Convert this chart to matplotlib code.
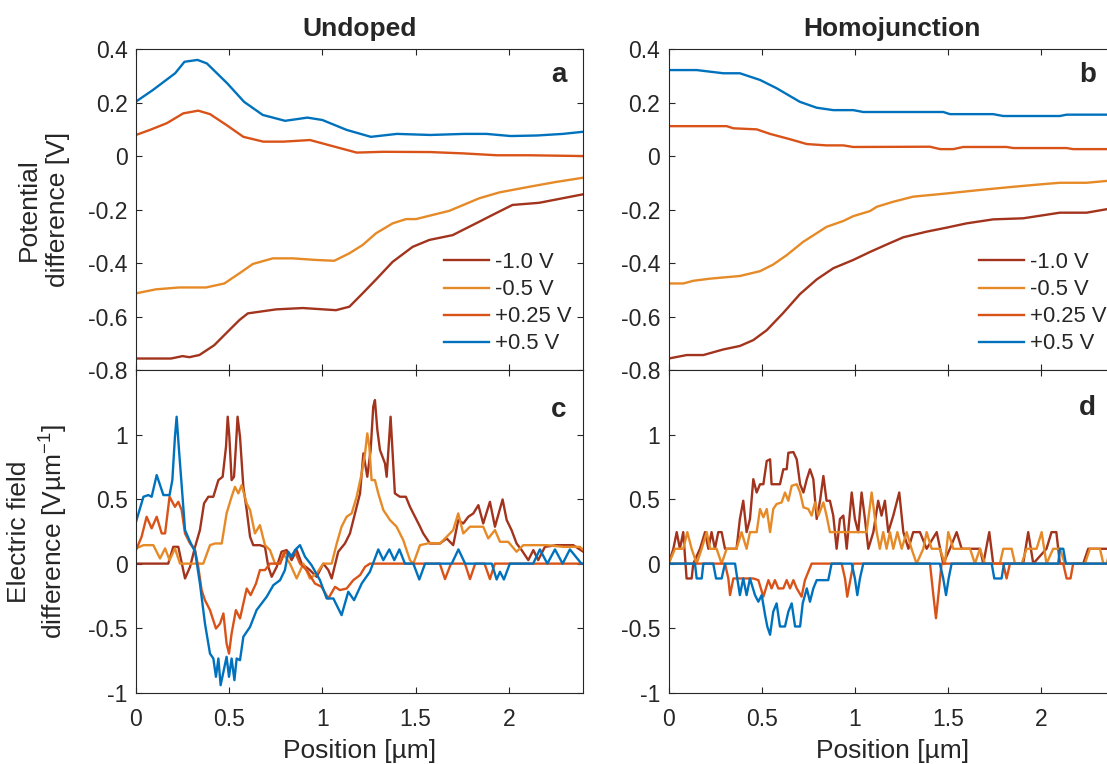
import matplotlib
matplotlib.use("Agg")
import matplotlib.pyplot as plt
from matplotlib.ticker import FuncFormatter

plt.rcParams['font.family'] = ['Liberation Sans', 'DejaVu Sans']
plt.rcParams['mathtext.fontset'] = 'custom'
plt.rcParams['mathtext.rm'] = 'Liberation Sans'
plt.rcParams['mathtext.it'] = 'Liberation Sans:italic'
plt.rcParams['axes.unicode_minus'] = False

labels = ["-1.0 V", "-0.5 V", "+0.25 V", "+0.5 V"]
colors = ["#A2331C", "#E68A28", "#D95319", "#0072BD"]

# ---- panel a: undoped, potential difference
a_x_m10 = [0, 0.188, 0.25, 0.286, 0.34, 0.42, 0.5, 0.555, 0.6, 0.752, 0.895, 1.073, 1.145, 1.216, 1.288,
           1.377, 1.484, 1.574, 1.699, 1.824, 1.931, 2.02, 2.163, 2.4]
a_y_m10 = [-0.757, -0.757, -0.748, -0.752, -0.744, -0.707, -0.651, -0.613, -0.588, -0.573, -0.568, -0.576,
           -0.563, -0.513, -0.461, -0.395, -0.339, -0.313, -0.295, -0.251, -0.213, -0.182, -0.174, -0.142]
a_x_m05 = [0, 0.107, 0.232, 0.376, 0.474, 0.555, 0.627, 0.734, 0.841, 0.966, 1.064, 1.145, 1.216, 1.288,
           1.377, 1.449, 1.502, 1.681, 1.842, 1.95, 2.11, 2.253, 2.4]
a_y_m05 = [-0.513, -0.498, -0.491, -0.491, -0.476, -0.438, -0.403, -0.382, -0.382, -0.388, -0.391, -0.363,
           -0.332, -0.288, -0.251, -0.235, -0.235, -0.204, -0.157, -0.135, -0.114, -0.096, -0.080]
a_x_p025 = [0, 0.075, 0.165, 0.254, 0.334, 0.397, 0.486, 0.576, 0.683, 0.79, 0.934, 1.077, 1.184, 1.326,
            1.577, 1.757, 1.935, 2.11, 2.4]
a_y_p025 = [0.080, 0.099, 0.124, 0.161, 0.171, 0.158, 0.117, 0.073, 0.055, 0.055, 0.061, 0.034, 0.014,
            0.017, 0.016, 0.011, 0.004, 0.004, 0.001]
a_x_p05 = [0, 0.09, 0.21, 0.26, 0.33, 0.38, 0.49, 0.58, 0.68, 0.80, 0.92, 1.0, 1.13, 1.26, 1.40, 1.58,
           1.76, 1.88, 2.01, 2.15, 2.29, 2.4]
a_y_p05 = [0.205, 0.248, 0.311, 0.354, 0.361, 0.348, 0.273, 0.204, 0.155, 0.133, 0.145, 0.136, 0.099,
           0.073, 0.084, 0.080, 0.084, 0.084, 0.076, 0.078, 0.084, 0.092]

# ---- panel b: homojunction, potential difference
b_x_m10 = [0, 0.097, 0.186, 0.293, 0.382, 0.454, 0.526, 0.615, 0.704, 0.794, 0.883, 0.99, 1.08, 1.17,
           1.259, 1.384, 1.491, 1.598, 1.741, 1.902, 2.099, 2.242, 2.4]
b_y_m10 = [-0.757, -0.744, -0.744, -0.723, -0.710, -0.688, -0.651, -0.586, -0.516, -0.461, -0.419, -0.388,
           -0.358, -0.330, -0.303, -0.282, -0.267, -0.251, -0.236, -0.232, -0.211, -0.211, -0.192]
b_x_m05 = [0, 0.079, 0.132, 0.222, 0.382, 0.49, 0.561, 0.633, 0.722, 0.847, 0.937, 0.99, 1.08, 1.116,
           1.205, 1.312, 1.491, 1.67, 1.849, 2.01, 2.099, 2.242, 2.4]
b_y_m05 = [-0.476, -0.476, -0.466, -0.458, -0.448, -0.430, -0.405, -0.370, -0.320, -0.264, -0.242, -0.224,
           -0.205, -0.189, -0.170, -0.151, -0.139, -0.126, -0.114, -0.104, -0.099, -0.099, -0.089]
b_x_p025 = [0, 0.311, 0.347, 0.472, 0.544, 0.651, 0.741, 0.847, 0.937, 0.99, 1.402, 1.456, 1.527, 1.58,
            1.813, 1.849, 2.135, 2.17, 2.4]
b_y_p025 = [0.113, 0.113, 0.105, 0.101, 0.084, 0.064, 0.046, 0.041, 0.041, 0.035, 0.036, 0.027, 0.027,
            0.035, 0.035, 0.031, 0.031, 0.027, 0.027]
b_x_p05 = [0, 0.15, 0.293, 0.382, 0.49, 0.579, 0.704, 0.794, 0.883, 0.99, 1.044, 1.473, 1.509, 1.741,
           1.795, 2.099, 2.135, 2.4]
b_y_p05 = [0.323, 0.323, 0.311, 0.311, 0.286, 0.255, 0.204, 0.182, 0.173, 0.173, 0.166, 0.166, 0.158,
           0.158, 0.151, 0.151, 0.156, 0.156]

# ---- panel c: undoped, electric field difference
c_x_m10 = [0, 0.173, 0.2, 0.227, 0.263, 0.29, 0.317, 0.343, 0.365, 0.388, 0.415, 0.442, 0.465, 0.483,
           0.492, 0.501, 0.513, 0.526, 0.536, 0.545, 0.558, 0.576, 0.594, 0.612, 0.629, 0.665, 0.692, 0.71,
           0.728, 0.755, 0.781, 0.808, 0.835, 0.862, 0.889, 0.933, 0.969, 1.005, 1.032, 1.05, 1.085, 1.121,
           1.148, 1.175, 1.202, 1.22, 1.241, 1.259, 1.273, 1.282, 1.295, 1.309, 1.336, 1.345, 1.359, 1.366,
           1.377, 1.389, 1.416, 1.448, 1.47, 1.497, 1.524, 1.541, 1.577, 1.631, 1.667, 1.702, 1.729, 1.756,
           1.783, 1.81, 1.837, 1.863, 1.899, 1.926, 1.967, 1.989, 2.015, 2.042, 2.069, 2.105, 2.132, 2.158,
           2.194, 2.257, 2.346, 2.4]
c_y_m10 = [0, 0, 0.13, 0.13, -0.115, -0.025, 0.13, 0.26, 0.466, 0.518, 0.518, 0.647, 0.673, 0.906, 1.138,
           0.983, 0.647, 0.673, 0.906, 1.138, 0.983, 0.595, 0.415, 0.208, 0.143, 0.143, 0.13, -0.025, -0.102,
           -0.025, 0.092, 0.105, 0.027, 0.105, 0.0, -0.05, -0.102, 0, -0.05, -0.115, 0.092, 0.156, 0.234,
           0.389, 0.544, 0.854, 0.673, 0.88, 1.216, 1.267, 1.035, 0.88, 0.776, 0.673, 0.983, 1.138, 0.854,
           0.544, 0.518, 0.518, 0.44, 0.363, 0.286, 0.234, 0.156, 0.156, 0.195, 0.143, 0.337, 0.311, 0.363,
           0.389, 0.453, 0.311, 0.479, 0.286, 0.497, 0.337, 0.26, 0.156, 0.105, 0.027, 0.105, 0.027, 0.13,
           0.143, 0.143, 0.092]
c_x_m05 = [0, 0.04, 0.093, 0.129, 0.156, 0.18, 0.209, 0.236, 0.361, 0.397, 0.424, 0.46, 0.486, 0.513,
           0.531, 0.549, 0.567, 0.594, 0.612, 0.638, 0.665, 0.692, 0.719, 0.746, 0.773, 0.79, 0.826, 0.862,
           0.898, 0.933, 0.969, 1.005, 1.05, 1.077, 1.103, 1.13, 1.157, 1.184, 1.211, 1.229, 1.241, 1.252,
           1.264, 1.282, 1.3, 1.327, 1.363, 1.398, 1.434, 1.47, 1.488, 1.524, 1.577, 1.631, 1.667, 1.702,
           1.729, 1.756, 1.792, 1.863, 1.89, 1.926, 1.953, 1.997, 2.042, 2.078, 2.203, 2.293, 2.382, 2.4]
c_y_m05 = [0.118, 0.143, 0.143, 0.04, 0.118, 0.027, 0.118, 0, 0, 0.143, 0.156, 0.156, 0.389, 0.518, 0.595,
           0.544, 0.608, 0.466, 0.415, 0.234, 0.298, 0.143, 0.105, 0, 0, 0.079, 0, -0.115, 0, -0.115,
           -0.076, 0, 0, 0.156, 0.286, 0.363, 0.389, 0.518, 0.699, 0.854, 1.009, 0.906, 0.647, 0.647, 0.544,
           0.415, 0.337, 0.286, 0.182, 0.027, 0, 0.143, 0.16, 0.156, 0.208, 0.26, 0.389, 0.234, 0.286, 0.286,
           0.195, 0.26, 0.169, 0.169, 0.092, 0.143, 0.143, 0.13, 0.13, 0.105]
c_x_p025 = [0, 0.03, 0.057, 0.084, 0.111, 0.138, 0.156, 0.18, 0.209, 0.227, 0.245, 0.263, 0.29, 0.317,
            0.334, 0.352, 0.37, 0.397, 0.429, 0.451, 0.469, 0.486, 0.499, 0.513, 0.536, 0.558, 0.594, 0.615,
            0.644, 0.665, 0.692, 0.719, 0.773, 0.799, 0.826, 0.853, 0.88, 0.916, 0.96, 0.996, 1.032, 1.068,
            1.094, 1.13, 1.166, 1.202, 1.229, 1.255, 1.63, 1.658, 1.69, 1.765, 1.792, 1.82, 1.87, 1.899,
            1.925, 2.4]
c_y_p025 = [0.105, 0.208, 0.363, 0.273, 0.363, 0.234, 0.234, 0.518, 0.44, 0.479, 0.415, 0.234, 0.156,
            0.105, -0.025, -0.205, -0.283, -0.36, -0.503, -0.464, -0.386, -0.619, -0.697, -0.541, -0.36,
            -0.425, -0.193, -0.244, -0.154, -0.05, -0.05, 0, 0, 0.092, 0.053, 0.092, 0, -0.05, -0.154, -0.18,
            -0.27, -0.18, -0.205, -0.193, -0.128, -0.089, -0.025, 0, 0, -0.12, 0, 0, -0.12, 0, 0, -0.12, 0, 0]
c_x_p05 = [0, 0.04, 0.066, 0.084, 0.111, 0.147, 0.18, 0.195, 0.209, 0.218, 0.232, 0.245, 0.263, 0.29,
           0.317, 0.343, 0.37, 0.397, 0.415, 0.429, 0.442, 0.454, 0.469, 0.486, 0.499, 0.513, 0.528, 0.54,
           0.558, 0.576, 0.612, 0.647, 0.701, 0.737, 0.773, 0.799, 0.817, 0.835, 0.853, 0.88, 0.907, 0.942,
           0.987, 1.023, 1.059, 1.103, 1.139, 1.17, 1.211, 1.255, 1.30, 1.327, 1.359, 1.386, 1.413, 1.443,
           1.488, 1.52, 1.551, 1.694, 1.73, 1.766, 1.909, 1.935, 1.953, 1.974, 2.006, 2.131, 2.167, 2.207,
           2.248, 2.289, 2.328, 2.39, 2.4]
c_y_p05 = [0.324, 0.518, 0.531, 0.518, 0.686, 0.531, 0.531, 0.647, 0.983, 1.138, 0.854, 0.608, 0.26, 0.17,
           0.092, -0.154, -0.464, -0.697, -0.735, -0.877, -0.735, -0.942, -0.839, -0.722, -0.877, -0.735,
           -0.903, -0.735, -0.748, -0.567, -0.49, -0.36, -0.257, -0.167, -0.128, -0.05, 0.092, 0.053, 0.105,
           0.143, 0.053, -0.012, -0.128, -0.27, -0.27, -0.399, -0.218, -0.283, -0.154, -0.063, 0.11, 0.027,
           0.11, 0.027, 0.11, 0, 0, -0.123, 0, 0, 0.11, 0, 0, -0.123, -0.063, -0.123, 0, 0, 0.11, 0, 0.11, 0,
           0.11, 0, 0]

# ---- panel d: homojunction, electric field difference
d_x_m10 = [0, 0.025, 0.043, 0.06, 0.078, 0.096, 0.123, 0.132, 0.168, 0.195, 0.213, 0.23, 0.248, 0.266,
           0.284, 0.302, 0.364, 0.382, 0.4, 0.418, 0.436, 0.454, 0.472, 0.49, 0.508, 0.526, 0.544, 0.552,
           0.597, 0.615, 0.633, 0.642, 0.669, 0.687, 0.705, 0.723, 0.741, 0.758, 0.776, 0.794, 0.812, 0.83,
           0.847, 0.865, 0.883, 0.901, 0.919, 0.937, 0.955, 0.982, 0.999, 1.017, 1.035, 1.053, 1.071, 1.098,
           1.124, 1.142, 1.16, 1.178, 1.205, 1.237, 1.259, 1.286, 1.312, 1.348, 1.384, 1.438, 1.473, 1.509,
           1.545, 1.572, 1.67, 1.688, 1.72, 1.741, 1.902, 1.929, 1.956, 2.027, 2.054, 2.08, 2.099, 2.224,
           2.251, 2.4]
d_y_m10 = [0, 0.115, 0.244, 0.115, 0.244, -0.115, -0.115, 0, 0.115, 0.244, 0.115, 0.244, 0.115, 0.244,
           0.244, 0.115, 0.115, 0.346, 0.487, 0.244, 0.346, 0.654, 0.551, 0.615, 0.615, 0.795, 0.808, 0.615,
           0.615, 0.731, 0.731, 0.859, 0.864, 0.808, 0.615, 0.551, 0.654, 0.731, 0.654, 0.346, 0.487, 0.679,
           0.487, 0.487, 0.372, 0.115, 0.346, 0.372, 0.115, 0.551, 0.346, 0.244, 0.551, 0.346, 0.115, 0.244,
           0.487, 0.372, 0.487, 0.244, 0.372, 0.551, 0.244, 0.115, 0.244, 0.244, 0.115, 0.244, 0, 0.115,
           0.244, 0.115, 0.115, 0, 0.244, 0, 0, 0.244, 0, 0.115, 0.244, 0.244, 0, 0, 0.115, 0.115]
d_x_m05 = [0, 0.034, 0.078, 0.1, 0.123, 0.15, 0.177, 0.204, 0.222, 0.257, 0.284, 0.311, 0.364, 0.391,
           0.418, 0.436, 0.472, 0.49, 0.508, 0.526, 0.544, 0.561, 0.579, 0.606, 0.624, 0.642, 0.66, 0.687,
           0.705, 0.723, 0.749, 0.767, 0.785, 0.803, 0.83, 0.847, 0.865, 1.062, 1.089, 1.116, 1.133, 1.151,
           1.169, 1.187, 1.205, 1.227, 1.25, 1.277, 1.303, 1.33, 1.366, 1.384, 1.411, 1.455, 1.482, 1.5,
           1.527, 1.617, 1.643, 1.67, 1.697, 1.777, 1.795, 1.84, 1.858, 1.894, 1.92, 1.974, 2.001, 2.027,
           2.063, 2.099, 2.126, 2.233, 2.26, 2.314, 2.332, 2.35, 2.37, 2.4]
d_y_m05 = [0, 0.115, 0.115, 0.244, 0.115, 0, 0.115, 0.244, 0.115, 0.115, 0, 0.115, 0.115, 0.244, 0.115,
           0.244, 0.244, 0.423, 0.359, 0.423, 0.244, 0.423, 0.462, 0.474, 0.551, 0.487, 0.603, 0.615, 0.551,
           0.436, 0.423, 0.372, 0.474, 0.372, 0.474, 0.372, 0.244, 0.244, 0.551, 0.244, 0.115, 0.244, 0.115,
           0.244, 0.115, 0.244, 0.115, 0.244, 0.115, 0, 0.115, 0.244, 0.115, 0.115, 0, 0.244, 0.115, 0.115,
           0, 0.115, 0, 0, 0.115, 0.115, 0, 0, 0.115, 0.115, 0.244, 0, 0.115, 0.115, 0, 0, 0.115, 0.115, 0,
           0, 0.115, 0.115]
d_x_p025 = [0, 0.302, 0.32, 0.329, 0.347, 0.454, 0.481, 0.508, 0.535, 0.552, 0.57, 0.588, 0.615, 0.633,
            0.651, 0.669, 0.687, 0.713, 0.731, 0.767, 0.928, 0.946, 0.958, 0.976, 0.991, 1.402, 1.42, 1.434,
            1.447, 1.464, 1.795, 1.813, 1.831, 2.117, 2.135, 2.156, 2.17, 2.4]
d_y_p025 = [0, 0, -0.115, -0.244, -0.115, -0.115, -0.128, -0.256, -0.128, -0.192, -0.128, -0.192, -0.192,
            -0.128, -0.192, -0.128, -0.192, -0.256, -0.128, 0, 0, -0.115, -0.256, -0.115, 0, 0, -0.244,
            -0.423, -0.244, 0, 0, -0.115, 0, 0, -0.115, -0.115, 0, 0]
d_x_p05 = [0, 0.141, 0.15, 0.177, 0.186, 0.239, 0.254, 0.284, 0.302, 0.356, 0.368, 0.382, 0.4, 0.418,
           0.436, 0.463, 0.481, 0.499, 0.517, 0.529, 0.544, 0.561, 0.579, 0.597, 0.624, 0.642, 0.66, 0.678,
           0.705, 0.719, 0.741, 0.758, 0.776, 0.794, 0.856, 0.874, 0.982, 0.999, 1.012, 1.026, 1.044, 1.455,
           1.473, 1.488, 1.502, 1.518, 1.733, 1.747, 1.786, 1.799, 2.09, 2.099, 2.117, 2.131, 2.4]
d_y_p05 = [0, 0, -0.115, -0.115, 0, 0, -0.115, -0.115, 0, 0, -0.115, -0.244, -0.115, -0.244, -0.115,
           -0.244, -0.295, -0.244, -0.397, -0.487, -0.551, -0.372, -0.308, -0.487, -0.487, -0.372, -0.308,
           -0.487, -0.487, -0.308, -0.192, -0.295, -0.192, -0.128, -0.128, 0, 0, -0.115, -0.244, -0.115, 0,
           0, -0.115, -0.244, -0.115, 0, 0, -0.115, -0.115, 0, 0, 0.115, 0.115, 0, 0]

panels = {
    "a": [(a_x_m10, a_y_m10), (a_x_m05, a_y_m05), (a_x_p025, a_y_p025), (a_x_p05, a_y_p05)],
    "b": [(b_x_m10, b_y_m10), (b_x_m05, b_y_m05), (b_x_p025, b_y_p025), (b_x_p05, b_y_p05)],
    "c": [(c_x_m10, c_y_m10), (c_x_m05, c_y_m05), (c_x_p025, c_y_p025), (c_x_p05, c_y_p05)],
    "d": [(d_x_m10, d_y_m10), (d_x_m05, d_y_m05), (d_x_p025, d_y_p025), (d_x_p05, d_y_p05)],
}

ink = "#262626"
fs = 16.5     # tick labels
legfs = 15.8  # legend
lfs = 19      # axis labels, titles

fig = plt.figure(figsize=(11.07, 7.64), dpi=100)
W, H = 1107, 764
axw = 447.3 / W
rects = {
    "a": [136 / W, 1 - 370 / H, axw, 320.5 / H],
    "b": [668.7 / W, 1 - 370 / H, axw, 320.5 / H],
    "c": [136 / W, 1 - 692.7 / H, axw, 322.7 / H],
    "d": [668.7 / W, 1 - 692.7 / H, axw, 322.7 / H],
}
letter_pos = {"a": (0.963, 0.92), "b": (0.955, 0.92), "c": (0.963, 0.876), "d": (0.955, 0.882)}

axes = {}
for key, rect in rects.items():
    ax = fig.add_axes(rect)
    axes[key] = ax
    for (xs, ys), c, lab in zip(panels[key], colors, labels):
        ax.plot(xs, ys, color=c, lw=1.7, label=lab)
    ax.set_xlim(0, 2.4)
    ax.set_xticks([0, 0.5, 1, 1.5, 2])
    ax.tick_params(direction="in", length=4, width=0.8, top=True, right=True,
                   labelsize=fs, colors=ink, pad=6)
    ax.tick_params(axis="x", pad=11)
    for s in ax.spines.values():
        s.set_color(ink)
        s.set_linewidth(0.8)
    ax.yaxis.set_major_formatter(FuncFormatter(lambda v, p: f"{round(v, 3):g}"))
    ax.xaxis.set_major_formatter(FuncFormatter(lambda v, p: f"{round(v, 3):g}"))
    ax.text(*letter_pos[key], key, transform=ax.transAxes, ha="right", va="center",
            fontsize=lfs + 1, fontweight="bold", color=ink)

for key in ("a", "b"):
    ax = axes[key]
    ax.set_ylim(-0.8, 0.4)
    ax.set_yticks([-0.8, -0.6, -0.4, -0.2, 0, 0.2, 0.4])
    ax.tick_params(labelbottom=False)
    ax.legend(loc="upper left", bbox_to_anchor=(0.688 if key == "a" else 0.694, 0.368),
              frameon=False, fontsize=legfs, handlelength=2.05, handletextpad=0.28,
              labelspacing=0.28, borderpad=0, borderaxespad=0, labelcolor=ink)

for key in ("c", "d"):
    ax = axes[key]
    ax.set_ylim(-1, 1.5)
    ax.set_yticks([-1, -0.5, 0, 0.5, 1])
    ax.set_xlabel("Position [µm]", fontsize=lfs, color=ink, labelpad=6)

axes["a"].set_title("Undoped", fontsize=lfs, fontweight="bold", color=ink, pad=10)
axes["b"].set_title("Homojunction", fontsize=lfs, fontweight="bold", color=ink, pad=10)
axes["a"].set_ylabel("Potential\ndifference [V]", fontsize=lfs, color=ink, linespacing=1.25)
axes["c"].set_ylabel("Electric field\ndifference [Vµm$^{-1}$]", fontsize=lfs, color=ink,
                     linespacing=1.25)
axes["a"].yaxis.set_label_coords(-0.148, 0.5)
axes["c"].yaxis.set_label_coords(-0.148, 0.5)

fig.savefig("out.png", dpi=100)
